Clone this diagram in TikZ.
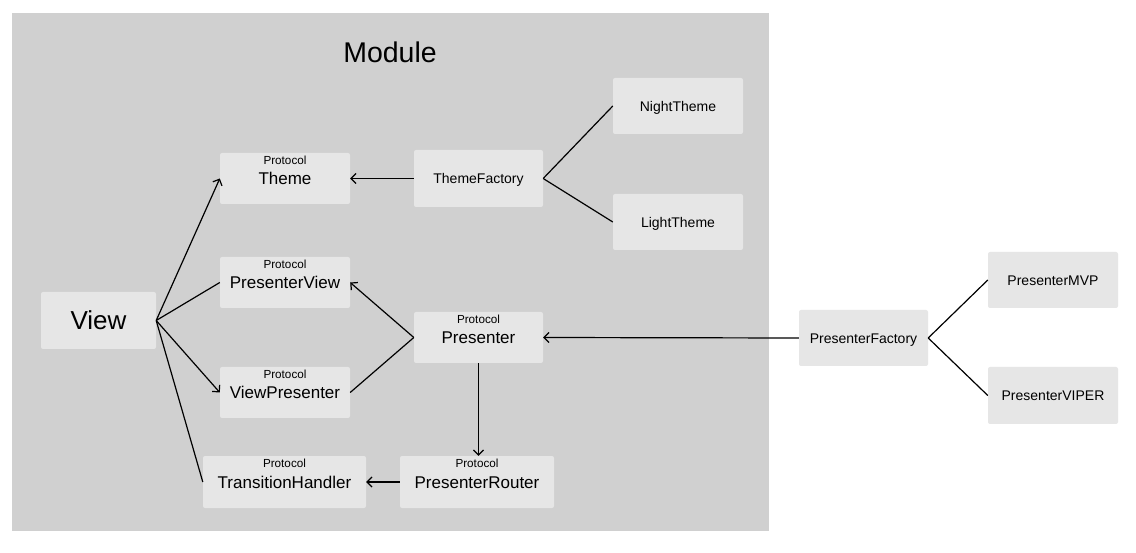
\documentclass[tikz,border=0pt]{standalone}
\usepackage{fontspec}
\setmainfont{Liberation Sans}
\usetikzlibrary{arrows.meta,calc}
\definecolor{modbg}{HTML}{D0D0D0}
\definecolor{boxc}{HTML}{E6E6E6}
\newcommand\mkbox[5]{%
  \node[boxst, minimum width={#4-#2}, minimum height={#5-#3}] (#1) at ({(#2+#4)/2},{(#3+#5)/2}) {};}
\begin{document}
\begin{tikzpicture}[x=1pt,y=-1pt,
  boxst/.style={fill=boxc, draw=none, rounded corners=2pt, inner sep=0pt},
  smallt/.style={anchor=base, font=\fontsize{11.7}{14}\selectfont},
  maint/.style={anchor=base, font=\fontsize{17}{20}\selectfont},
  plaint/.style={anchor=base, font=\fontsize{14}{17}\selectfont},
  conn/.style={line width=1.2pt, black},
  arr/.style={conn, -{Straight Barb[length=5pt,width=10pt,line width=1.2pt]}}]
\useasboundingbox (0,0) rectangle (1136,553);
\fill[white] (0,0) rectangle (1136,553);
\fill[modbg] (12,13) rectangle (769,531);
\node[anchor=base, font=\fontsize{28.5}{32}\selectfont] (title) at (390,62.5) {Module};
% boxes
\mkbox{view}{41}{292}{156}{349}
\mkbox{theme}{220}{153}{350}{204}
\mkbox{tf}{414}{150}{543}{207}
\mkbox{night}{613}{78}{743}{134}
\mkbox{light}{613}{194}{743}{250}
\mkbox{pview}{220}{257}{350}{308}
\mkbox{pres}{414}{312}{543}{363}
\mkbox{vpres}{220}{367}{350}{418}
\mkbox{trans}{203}{456}{366}{508}
\mkbox{router}{400}{456}{554}{508}
\mkbox{pf}{799}{310}{928}{366}
\mkbox{mvp}{988}{252}{1118}{308}
\mkbox{viper}{988}{367}{1118}{424}
% texts
\node[anchor=base, font=\fontsize{26}{30}\selectfont] (viewt) at ($(view.center)+(0,8.8)$) {View};
\foreach \n/\t in {theme/Theme, pview/PresenterView, pres/Presenter, vpres/ViewPresenter, trans/TransitionHandler, router/PresenterRouter}{
  \node[smallt] (\n-p) at ($(\n.north)+(0,11.8)$) {Protocol};
  \node[maint] (\n-t) at ($(\n.center)+(0,6.3)$) {\t};
}
\foreach \n/\t in {tf/ThemeFactory, night/NightTheme, light/LightTheme, pf/PresenterFactory, mvp/PresenterMVP, viper/PresenterVIPER}{
  \node[plaint] (\n-t) at ($(\n.center)+(0,5.1)$) {\t};
}
% connectors
\draw[arr] (view.east) -- (theme.west);
\draw[conn] (view.east) -- (pview.west);
\draw[arr] (view.east) -- (vpres.west);
\draw[conn] (view.east) -- (trans.west);
\draw[arr] (tf.west) -- (theme.east);
\draw[conn] (tf.east) -- (night.west);
\draw[conn] (tf.east) -- (light.west);
\draw[arr] (pres.west) -- (pview.east);
\draw[conn] (pres.west) -- (vpres.east);
\draw[arr] (pres.south) -- (pres.south |- router.north);
\draw[arr] (router.west) -- (trans.east);
\draw[arr] (pf.west) -- (pres.east);
\draw[conn] (pf.east) -- (mvp.west);
\draw[conn] (pf.east) -- (viper.west);
\end{tikzpicture}
\end{document}
